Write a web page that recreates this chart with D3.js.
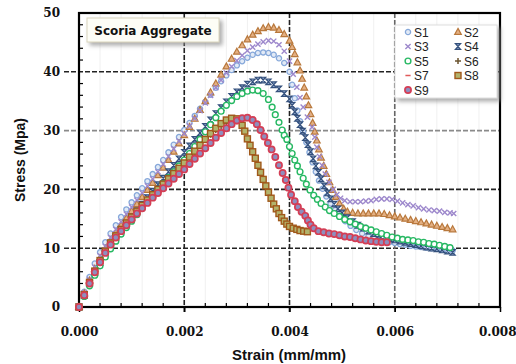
<!DOCTYPE html>
<html><head><meta charset="utf-8">
<script src="https://cdn.jsdelivr.net/npm/d3@7"></script>
<style>body{margin:0;background:#fff}svg{display:block}</style>
</head><body><svg id="c" width="516" height="364"></svg>
<script>
// ---- data: [strain (mm/mm), stress (MPa)] ----
const s1 = [[0,0],[0.0001,2.6],[0.0002,5.1],[0.0003,7.4],[0.0004,9.3],[0.0005,11.0],[0.0006,12.5],[0.0007,13.9],[0.0008,15.3],[0.0009,16.6],[0.001,17.8],[0.0011,19.0],[0.0012,20.2],[0.0013,21.4],[0.0014,22.6],[0.0015,23.8],[0.0016,25.0],[0.0017,26.3],[0.0018,27.6],[0.0019,28.9],[0.002,30.1],[0.0021,31.3],[0.0022,32.5],[0.0023,33.7],[0.0024,34.9],[0.0025,36.1],[0.0026,37.3],[0.0027,38.4],[0.0028,39.4],[0.0029,40.3],[0.003,41.1],[0.0031,41.8],[0.0032,42.4],[0.0033,42.9],[0.0034,43.2],[0.0035,43.3],[0.0036,43.2],[0.0037,42.9],[0.0038,42.3],[0.0039,41.5],[0.004,40.0],[0.00405,37.8],[0.0041,35.5],[0.00415,33.4],[0.0042,31.6],[0.00426,29.8],[0.00432,28.0],[0.00438,26.3],[0.00444,24.6],[0.0045,23.0],[0.00456,21.5],[0.00463,20.1],[0.0047,18.8],[0.00478,17.6],[0.00487,16.5],[0.00496,15.5],[0.00506,14.6],[0.00516,13.8],[0.00527,13.1],[0.00538,12.5],[0.0055,12.0],[0.0056,11.7],[0.0057,11.4],[0.0058,11.2],[0.0059,11.0],[0.006,10.9],[0.0061,10.7],[0.0062,10.6],[0.0063,10.4],[0.0064,10.3],[0.0065,10.2],[0.0066,10.1],[0.0067,10.0],[0.0068,9.9],[0.0069,9.8],[0.007,9.7],[0.0071,9.6]];
const s2 = [[0,0],[0.0001,2.3],[0.0002,4.5],[0.0003,6.5],[0.0004,8.3],[0.0005,9.9],[0.0006,11.3],[0.0007,12.6],[0.0008,13.9],[0.0009,15.1],[0.001,16.3],[0.0011,17.5],[0.0012,18.7],[0.0013,19.9],[0.0014,21.1],[0.0015,22.4],[0.0016,23.7],[0.0017,25.0],[0.0018,26.4],[0.0019,27.8],[0.002,29.2],[0.0021,30.6],[0.0022,32.0],[0.0023,33.5],[0.0024,35.0],[0.0025,36.5],[0.0026,38.0],[0.0027,39.5],[0.0028,40.9],[0.0029,42.2],[0.003,43.4],[0.0031,44.5],[0.0032,45.5],[0.0033,46.3],[0.0034,46.9],[0.0035,47.4],[0.0036,47.6],[0.0037,47.5],[0.0038,47.1],[0.0039,46.4],[0.004,45.3],[0.00405,44.2],[0.0041,43.0],[0.00415,41.6],[0.0042,40.2],[0.00424,38.8],[0.00428,37.3],[0.00432,35.8],[0.00436,34.3],[0.0044,32.8],[0.00444,31.3],[0.00448,29.8],[0.00452,28.3],[0.00456,26.8],[0.0046,25.4],[0.00465,24.0],[0.0047,22.6],[0.00476,21.2],[0.00482,19.9],[0.00488,18.7],[0.00495,17.6],[0.00503,16.7],[0.0051,16.2],[0.0052,16.0],[0.0053,15.9],[0.0054,15.9],[0.0055,15.9],[0.0056,15.9],[0.0057,15.9],[0.0058,15.8],[0.0059,15.6],[0.006,15.4],[0.0061,15.2],[0.0062,15.0],[0.0063,14.8],[0.0064,14.6],[0.0065,14.4],[0.0066,14.2],[0.0067,14.0],[0.0068,13.8],[0.0069,13.6],[0.007,13.4],[0.0071,13.2]];
const s3 = [[0,0],[0.0001,2.4],[0.0002,4.7],[0.0003,6.8],[0.0004,8.7],[0.0005,10.3],[0.0006,11.8],[0.0007,13.2],[0.0008,14.5],[0.0009,15.8],[0.001,17.0],[0.0011,18.2],[0.0012,19.4],[0.0013,20.6],[0.0014,21.8],[0.0015,23.0],[0.0016,24.3],[0.0017,25.6],[0.0018,26.9],[0.0019,28.2],[0.002,29.5],[0.0021,30.8],[0.0022,32.1],[0.0023,33.4],[0.0024,34.7],[0.0025,36.0],[0.0026,37.3],[0.0027,38.6],[0.0028,39.8],[0.0029,40.9],[0.003,41.9],[0.0031,42.8],[0.0032,43.6],[0.0033,44.2],[0.0034,44.7],[0.0035,45.1],[0.0036,45.3],[0.0037,45.2],[0.0038,44.6],[0.0039,43.5],[0.004,41.8],[0.00407,39.6],[0.00414,37.4],[0.0042,35.6],[0.00426,34.0],[0.00434,32.3],[0.00443,30.6],[0.00448,28.9],[0.00452,27.2],[0.00457,25.6],[0.00462,24.1],[0.00468,22.6],[0.00475,21.2],[0.00483,20.0],[0.0049,19.1],[0.00497,18.5],[0.00505,18.1],[0.00515,17.9],[0.00525,17.9],[0.00535,17.9],[0.00545,18.0],[0.00555,18.1],[0.00565,18.3],[0.00575,18.4],[0.00585,18.4],[0.00595,18.3],[0.00605,18.0],[0.00615,17.7],[0.00625,17.4],[0.00635,17.2],[0.00645,16.9],[0.00655,16.7],[0.00665,16.5],[0.00675,16.4],[0.00685,16.3],[0.00695,16.1],[0.00705,16.0],[0.00712,15.9]];
const s4 = [[0,0],[0.0001,2.0],[0.0002,4.0],[0.0003,5.9],[0.0004,7.6],[0.0005,9.2],[0.0006,10.6],[0.0007,11.9],[0.0008,13.1],[0.0009,14.2],[0.001,15.3],[0.0011,16.4],[0.0012,17.5],[0.0013,18.6],[0.0014,19.7],[0.0015,20.8],[0.0016,21.9],[0.0017,23.0],[0.0018,24.1],[0.0019,25.2],[0.002,26.3],[0.0021,27.4],[0.0022,28.5],[0.0023,29.6],[0.0024,30.7],[0.0025,31.8],[0.0026,32.9],[0.0027,33.9],[0.0028,34.9],[0.0029,35.8],[0.003,36.6],[0.0031,37.3],[0.0032,37.9],[0.0033,38.3],[0.0034,38.6],[0.0035,38.6],[0.0036,38.3],[0.0037,37.8],[0.0038,37.1],[0.0039,36.3],[0.004,35.4],[0.00405,34.3],[0.0041,33.2],[0.00415,32.1],[0.0042,31.0],[0.00425,29.9],[0.0043,28.8],[0.00435,27.6],[0.0044,26.4],[0.00445,25.2],[0.0045,24.0],[0.00455,22.9],[0.0046,21.8],[0.00466,20.6],[0.00472,19.4],[0.00478,18.4],[0.00485,17.5],[0.00492,16.7],[0.005,16.0],[0.0051,15.2],[0.0052,14.5],[0.0053,13.9],[0.0054,13.4],[0.0055,12.9],[0.0056,12.5],[0.0057,12.2],[0.0058,11.9],[0.0059,11.6],[0.006,11.4],[0.0061,11.2],[0.0062,11.0],[0.0063,10.8],[0.0064,10.6],[0.0065,10.4],[0.0066,10.2],[0.0067,10.0],[0.0068,9.9],[0.0069,9.7],[0.007,9.5],[0.0071,9.3]];
const s5 = [[0,0],[0.0001,1.8],[0.0002,3.6],[0.0003,5.4],[0.0004,7.0],[0.0005,8.5],[0.0006,9.9],[0.0007,11.2],[0.0008,12.4],[0.0009,13.5],[0.001,14.6],[0.0011,15.7],[0.0012,16.8],[0.0013,17.9],[0.0014,19.0],[0.0015,20.0],[0.0016,21.0],[0.0017,22.0],[0.0018,23.0],[0.0019,24.0],[0.002,25.0],[0.0021,26.1],[0.0022,27.3],[0.0023,28.5],[0.0024,29.8],[0.0025,31.0],[0.0026,32.2],[0.0027,33.3],[0.0028,34.3],[0.0029,35.1],[0.003,35.8],[0.0031,36.3],[0.0032,36.7],[0.0033,36.9],[0.0034,36.8],[0.0035,36.3],[0.0036,35.3],[0.00367,34.0],[0.00373,32.7],[0.0038,31.4],[0.00386,30.1],[0.0039,29.2],[0.00395,28.5],[0.004,27.3],[0.00405,26.1],[0.0041,25.0],[0.00415,24.0],[0.0042,23.0],[0.00426,21.9],[0.00432,20.9],[0.00439,19.9],[0.00446,19.0],[0.00453,18.3],[0.0046,17.6],[0.00468,17.0],[0.00476,16.4],[0.00485,15.9],[0.00495,15.4],[0.00505,14.9],[0.00515,14.5],[0.00525,14.1],[0.00535,13.7],[0.00545,13.4],[0.00555,13.1],[0.00565,12.8],[0.00575,12.5],[0.00585,12.2],[0.00595,11.9],[0.00605,11.7],[0.00615,11.5],[0.00625,11.4],[0.00635,11.3],[0.00645,11.1],[0.00655,11.0],[0.00665,10.8],[0.00675,10.7],[0.00685,10.5],[0.00695,10.3],[0.00705,10.1]];
const s6 = [[0,0],[0.0001,2.1],[0.0002,4.1],[0.0003,6.0],[0.0004,7.8],[0.0005,9.4],[0.0006,10.8],[0.0007,12.0],[0.0008,13.1],[0.0009,14.2],[0.001,15.2],[0.0011,16.2],[0.0012,17.2],[0.0013,18.1],[0.0014,19.0],[0.0015,19.9],[0.0016,20.8],[0.0017,21.7],[0.0018,22.6],[0.0019,23.5],[0.002,24.4],[0.0021,25.4],[0.0022,26.4],[0.0023,27.4],[0.0024,28.4],[0.0025,29.3],[0.0026,30.1],[0.0027,30.8],[0.0028,31.3],[0.0029,31.6],[0.003,31.6]];
const s7 = [[0,0],[0.0001,2.0],[0.0002,3.9],[0.0003,5.8],[0.0004,7.5],[0.0005,9.1],[0.0006,10.5],[0.0007,11.7],[0.0008,12.8],[0.0009,13.8],[0.001,14.8],[0.0011,15.8],[0.0012,16.7],[0.0013,17.6],[0.0014,18.5],[0.0015,19.3],[0.0016,20.1],[0.0017,20.9],[0.0018,21.7],[0.0019,22.5],[0.002,23.3],[0.0021,24.2],[0.0022,25.1],[0.0023,26.0],[0.0024,26.9],[0.0025,27.8],[0.0026,28.7],[0.0027,29.5],[0.0028,30.3],[0.0029,31.0],[0.003,31.5]];
const s8 = [[0,0],[0.0001,2.1],[0.0002,4.2],[0.0003,6.1],[0.0004,7.9],[0.0005,9.5],[0.0006,10.9],[0.0007,12.1],[0.0008,13.2],[0.0009,14.3],[0.001,15.3],[0.0011,16.3],[0.0012,17.3],[0.0013,18.2],[0.0014,19.1],[0.0015,20.0],[0.0016,20.9],[0.0017,21.8],[0.0018,22.7],[0.0019,23.6],[0.002,24.5],[0.0021,25.5],[0.0022,26.5],[0.0023,27.5],[0.0024,28.5],[0.0025,29.5],[0.0026,30.4],[0.0027,31.2],[0.0028,31.8],[0.0029,32.1],[0.003,32.0],[0.0031,30.9],[0.00315,29.9],[0.0032,28.6],[0.00325,27.5],[0.0033,26.4],[0.00335,25.3],[0.0034,24.1],[0.00345,22.9],[0.0035,21.7],[0.00355,20.6],[0.0036,19.5],[0.00365,18.5],[0.0037,17.5],[0.00375,16.7],[0.0038,15.9],[0.00385,15.2],[0.0039,14.6],[0.00395,14.1],[0.004,13.7],[0.00407,13.4],[0.00414,13.2],[0.0042,13.0],[0.00427,12.9],[0.00434,12.8]];
const s9 = [[0,0],[0.0001,2.0],[0.0002,4.0],[0.0003,5.9],[0.0004,7.6],[0.0005,9.2],[0.0006,10.6],[0.0007,11.8],[0.0008,12.9],[0.0009,13.9],[0.001,14.9],[0.0011,15.9],[0.0012,16.8],[0.0013,17.7],[0.0014,18.6],[0.0015,19.4],[0.0016,20.2],[0.0017,21.0],[0.0018,21.8],[0.0019,22.6],[0.002,23.4],[0.0021,24.3],[0.0022,25.2],[0.0023,26.1],[0.0024,27.0],[0.0025,27.9],[0.0026,28.8],[0.0027,29.6],[0.0028,30.4],[0.0029,31.1],[0.003,31.7],[0.0031,32.1],[0.0032,32.2],[0.0033,31.8],[0.00338,31.1],[0.00345,30.1],[0.00352,29.0],[0.00359,27.9],[0.00366,26.8],[0.00373,25.5],[0.0038,24.1],[0.00387,22.8],[0.00393,21.6],[0.00398,20.3],[0.00403,19.1],[0.0041,18.0],[0.00416,17.0],[0.00423,16.2],[0.0043,15.5],[0.00435,14.7],[0.0044,14.0],[0.00446,13.4],[0.00455,12.9],[0.00465,12.7],[0.00475,12.5],[0.00485,12.4],[0.00495,12.2],[0.00505,12.0],[0.00515,11.9],[0.00525,11.7],[0.00535,11.5],[0.00545,11.3],[0.00555,11.2],[0.00565,11.1],[0.00575,11.0],[0.00585,11.0]];
const seriesNames = ["S1","S2","S3","S4","S5","S6","S7","S8","S9"];
const seriesData = [s1,s2,s3,s4,s5,s6,s7,s8,s9];
const xTicks = [0, 0.002, 0.004, 0.006, 0.008];
const yTicks = [0, 10, 20, 30, 40, 50];
const titleText = "Scoria Aggregate";
const xLabel = "Strain (mm/mm)";
const yLabel = "Stress (Mpa)";

// ---- drawing ----
const svg = d3.select("#c");
const x = d3.scaleLinear().domain([0, 0.008]).range([79, 500]);
const y = d3.scaleLinear().domain([0, 50]).range([307, 13]);

const defs = svg.append("defs");
const sh = defs.append("filter").attr("id","shadow").attr("x","-20%").attr("y","-20%").attr("width","150%").attr("height","160%");
sh.append("feDropShadow").attr("dx",3).attr("dy",3).attr("stdDeviation",2).attr("flood-color","#888").attr("flood-opacity",0.7);

// faint minor vertical grid
const xMinor = d3.range(0, 0.00801, 0.0004);
svg.append("g").selectAll("line").data(xMinor).join("line")
  .attr("x1", d => x(d)).attr("x2", d => x(d)).attr("y1", y(50)).attr("y2", y(0))
  .attr("stroke", "#f0f0f0").attr("stroke-width", 1);

// major grid
svg.append("g").selectAll("line").data(yTicks.filter(d => d > 0 && d < 50)).join("line")
  .attr("x1", 64).attr("x2", x(0.008)).attr("y1", d => y(d)).attr("y2", d => y(d))
  .attr("stroke", d => d === 30 ? "#8a8a8a" : "#222").attr("stroke-width", 1.6)
  .attr("stroke-dasharray", "5,2");
svg.append("g").selectAll("line").data(xTicks.filter(d => d > 0 && d < 0.008)).join("line")
  .attr("x1", d => x(d)).attr("x2", d => x(d)).attr("y1", y(50)).attr("y2", y(0) + 6)
  .attr("stroke", d => d === 0.006 ? "#666" : "#222").attr("stroke-width", 1.6)
  .attr("stroke-dasharray", "5,2");

// minor ticks inside
svg.append("g").selectAll("line").data(d3.range(2, 50, 2).filter(d => d % 10 !== 0)).join("line")
  .attr("x1", x(0)).attr("x2", x(0) + 4).attr("y1", d => y(d)).attr("y2", d => y(d))
  .attr("stroke", "#000").attr("stroke-width", 1.2);
svg.append("g").selectAll("line").data(xMinor.filter((d, i) => i % 5 !== 0)).join("line")
  .attr("x1", d => x(d)).attr("x2", d => x(d)).attr("y1", y(0)).attr("y2", y(0) - 4)
  .attr("stroke", "#000").attr("stroke-width", 1.2);

// axes (labels)
const xAxis = svg.append("g").attr("transform", `translate(0,${y(0)})`)
  .call(d3.axisBottom(x).tickValues(xTicks).tickFormat(d3.format(".3f")).tickSize(5).tickPadding(15));
const yAxis = svg.append("g").attr("transform", `translate(${x(0)},0)`)
  .call(d3.axisLeft(y).tickValues(yTicks).tickFormat(d3.format("d")).tickSize(0).tickPadding(19));
[xAxis, yAxis].forEach(a => {
  a.select(".domain").remove();
  a.selectAll(".tick line").attr("stroke", "#000").attr("stroke-width", 1.5);
  a.selectAll("text").attr("font-family", "'DejaVu Serif', serif").attr("font-weight", "bold")
    .attr("font-size", 12).attr("fill", "#111");
});
// keep the last x label inside the window
xAxis.selectAll(".tick").filter(d => d === 0.008).select("text").attr("text-anchor", "end").attr("x", 16);

// frame
svg.append("rect").attr("x", x(0)).attr("y", y(50)).attr("width", x(0.008) - x(0)).attr("height", y(0) - y(50))
  .attr("fill", "none").attr("stroke", "#000").attr("stroke-width", 2.2);

// markers
const styles = [
  {shape:"circle", r:2.6, stroke:"#86a8da", fill:"#e2eaf6", sw:1.3},
  {shape:"tri", stroke:"#b8783c", fill:"#e4b083", sw:1.2},
  {shape:"x", stroke:"#9d88cc", fill:"none", sw:1.4},
  {shape:"hour", stroke:"#34507c", fill:"#8ea6cc", sw:1.2},
  {shape:"circle", r:2.9, stroke:"#26b862", fill:"#fff", sw:1.4},
  {shape:"plus", stroke:"#6b5430", fill:"none", sw:1.5},
  {shape:"dash", stroke:"#e05a5a", fill:"none", sw:1.5},
  {shape:"square", stroke:"#a0581a", fill:"#b2b36c", sw:1.4},
  {shape:"circle", r:3.1, stroke:"#d43e55", fill:"#8e8ebe", sw:1.7}
];
function drawMarker(g, st) {
  if (st.shape === "circle") g.append("circle").attr("r", st.r);
  else if (st.shape === "square") g.append("rect").attr("x", -3).attr("y", -3).attr("width", 6).attr("height", 6);
  else {
    const p = {tri:"M0,-3.6L3.3,2.4L-3.3,2.4Z", x:"M-2.6,-2.6L2.6,2.6M-2.6,2.6L2.6,-2.6",
      hour:"M-2.6,-2.8L2.6,-2.8L-2.6,2.8L2.6,2.8Z", plus:"M-3,0L3,0M0,-3L0,3", dash:"M-2.6,0L2.6,0"}[st.shape];
    g.append("path").attr("d", p);
  }
  g.attr("stroke", st.stroke).attr("fill", st.fill).attr("stroke-width", st.sw);
}
seriesData.forEach((data, i) => {
  const g = svg.append("g");
  g.selectAll("g").data(data).join("g")
    .attr("transform", d => `translate(${x(d[0])},${y(d[1])})`)
    .each(function() { drawMarker(d3.select(this), styles[i]); });
});

// title box
const tb = svg.append("g");
tb.append("rect").attr("x", 87).attr("y", 18).attr("width", 132).attr("height", 24)
  .attr("fill", "#fdfdf6").attr("stroke", "#d9d4bd").attr("stroke-width", 1).attr("filter", "url(#shadow)");
tb.append("text").attr("x", 153).attr("y", 35).attr("text-anchor", "middle")
  .attr("font-family", "'DejaVu Sans', sans-serif").attr("font-weight", "bold").attr("font-size", 12)
  .attr("fill", "#111").text(titleText);

// legend
const lg = svg.append("g");
lg.append("rect").attr("x", 395).attr("y", 25).attr("width", 102).attr("height", 73)
  .attr("fill", "#fff").attr("stroke", "#ddd").attr("stroke-width", 1).attr("filter", "url(#shadow)");
seriesNames.forEach((n, i) => {
  const cx = i % 2 === 0 ? 408 : 458, cy = 32 + Math.floor(i / 2) * 14.5;
  const mg = lg.append("g").attr("transform", `translate(${cx},${cy})`);
  drawMarker(mg, styles[i]);
  lg.append("text").attr("x", cx + 6).attr("y", cy + 4.5)
    .attr("font-family", "'Liberation Sans', Arial, sans-serif").attr("font-size", 12).attr("fill", "#222").text(n);
});

// axis titles
svg.append("text").attr("x", 289).attr("y", 360).attr("text-anchor", "middle")
  .attr("font-family", "'Liberation Sans', Arial, sans-serif").attr("font-weight", "bold").attr("font-size", 15)
  .attr("fill", "#111").text(xLabel);
svg.append("text").attr("transform", "translate(25,160) rotate(-90)").attr("text-anchor", "middle")
  .attr("font-family", "'Liberation Sans', Arial, sans-serif").attr("font-weight", "bold").attr("font-size", 14)
  .attr("fill", "#111").text(yLabel);
</script></body></html>
